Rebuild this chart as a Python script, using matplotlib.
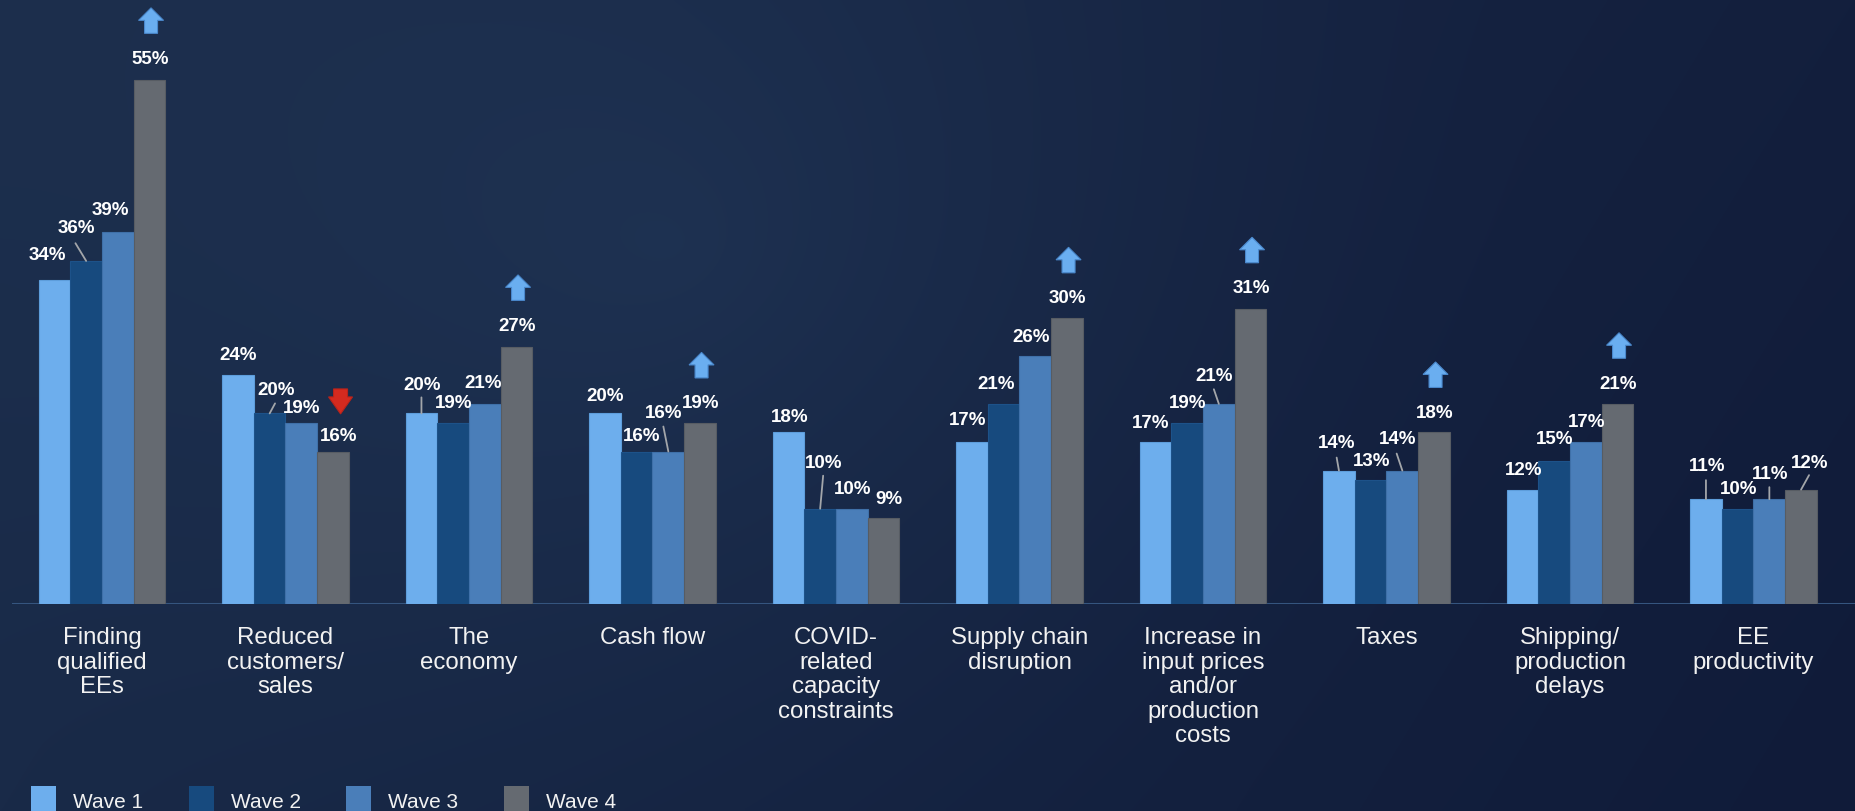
import numpy as np
import matplotlib
matplotlib.use("Agg")
import matplotlib.pyplot as plt
from matplotlib import transforms
from matplotlib.patches import Polygon, Rectangle

plt.rcParams['font.family'] = ['Liberation Sans', 'DejaVu Sans']

# ---- data -------------------------------------------------------------
categories = [
    "Finding\nqualified\nEEs", "Reduced\ncustomers/\nsales", "The\neconomy",
    "Cash flow", "COVID-\nrelated\ncapacity\nconstraints", "Supply chain\ndisruption",
    "Increase in\ninput prices\nand/or\nproduction\ncosts", "Taxes",
    "Shipping/\nproduction\ndelays", "EE\nproductivity",
]
series_names = ["Wave 1", "Wave 2", "Wave 3", "Wave 4"]
wave1 = [34, 24, 20, 20, 18, 17, 17, 14, 12, 11]
wave2 = [36, 20, 19, 16, 10, 21, 19, 13, 15, 10]
wave3 = [39, 19, 21, 16, 10, 26, 21, 14, 17, 11]
wave4 = [55, 16, 27, 19, 9, 30, 31, 18, 21, 12]
# change from previous wave flagged on the Wave 4 bar
trend = ["up", "down", "up", "up", None, "up", "up", "up", "up", None]

# ---- styling ----------------------------------------------------------
colors = ["#6daeed", "#174a7e", "#4a7eb9", "#656a71"]
edge_colors = ["#5d9ddb", "#1d5289", "#3f70a8", "#575c63"]
W, H, DPI = 1856, 812, 100
PX = 72.0 / DPI  # points per pixel

# label offsets (px, y up) from each bar top, per category, per wave
label_off = [
    [(-7.5, 25.5), (-10, 33), (-7.5, 22.5), (0.5, 21.5)],
    [(0.5, 21), (6, 24), (0.5, 15.6), (6, 15.6)],
    [(0.5, 29), (0.5, 20), (-1.9, 21), (0.5, 21.3)],
    [(0.5, 18), (5.4, 16), (-4.4, 39), (0.5, 20)],
    [(1, 16), (3.1, 46), (0.4, 20), (5.5, 19.5)],
    [(-4.5, 22.7), (-8, 20.6), (-4.7, 20), (0.5, 20.3)],
    [(-4.7, 19.4), (0.5, 20), (-4.7, 28), (0.5, 20.8)],
    [(-2, 28), (0.5, 19.2), (-4.4, 31.7), (0.5, 20)],
    [(1, 20.5), (0.5, 22.5), (0.5, 20), (0.5, 20.6)],
    [(1, 34), (0.5, 20), (0.5, 26), (9, 27)],
]
# leader lines: (category, wave) -> start offset (px) from bar top
leaders = {
    (0, 1): (-10.7, 17.7), (1, 1): (5.4, 10), (2, 0): (0, 16),
    (3, 2): (-5, 25), (4, 1): (3, 33), (6, 2): (-5, 14.6),
    (7, 0): (-2.3, 13), (7, 2): (-5.7, 17), (9, 0): (0, 19),
    (9, 2): (0, 12), (9, 3): (8, 14.5),
}

fig = plt.figure(figsize=(W / DPI, H / DPI), dpi=DPI)

# ---- background -------------------------------------------------------
bg_ax = fig.add_axes([0, 0, 1, 1], zorder=-10)
gh, gw = 203, 464
yy, xx = np.mgrid[0:gh, 0:gw]
fx, fy = xx / (gw - 1), yy / (gh - 1)
left = np.array([28, 46, 76]) / 255.0
right = np.array([19, 31, 61]) / 255.0
base = left[None, None, :] * (1 - fx[..., None]) + right[None, None, :] * fx[..., None]
d = np.sqrt(((fx - 0.36) * 1.9) ** 2 + ((fy - 0.3) * 1.0) ** 2)
glow = np.clip(1 - d / 0.9, 0, 1) ** 1.5
base = base + glow[..., None] * (np.array([6, 10, 12]) / 255.0)
base = base - (fy[..., None] * np.array([3, 4, 4]) / 255.0)
bg_ax.imshow(np.clip(base, 0, 1), aspect="auto", interpolation="bilinear",
             extent=[0, 1, 0, 1])
bg_ax.axis("off")

# ---- main axes --------------------------------------------------------
base_px = 605
px_per_pct = 9.53
ax = fig.add_axes([0, (H - base_px) / H, 1, base_px / H])
ax.patch.set_alpha(0)
group_px, first_px = 183.5, 102
ax.set_xlim(-first_px / group_px, (W - first_px) / group_px)
ax.set_ylim(0, base_px / px_per_pct)
ax.axis("off")

bar_w = 31.7 / group_px
x = np.arange(len(categories))
series = [wave1, wave2, wave3, wave4]

ax.axhline(0, xmin=13 / W, xmax=1, color="#35557f", lw=2.2, zorder=1)

for w, vals in enumerate(series):
    xs = x + (w - 1.5) * bar_w
    ax.bar(xs, vals, width=bar_w, color=colors[w], edgecolor=edge_colors[w],
           linewidth=0.8, zorder=2)
    for i, (xi, v) in enumerate(zip(xs, vals)):
        dx, dy = label_off[i][w]
        ax.annotate(f"{v}%", xy=(xi, v), xytext=(dx * PX, dy * PX),
                    textcoords="offset points", ha="center", va="center",
                    fontsize=13.5, fontweight="bold", color="white", zorder=4)
        if (i, w) in leaders:
            sx, sy = leaders[(i, w)]
            ax.annotate("", xy=(xi, v), xytext=(sx * PX, sy * PX),
                        textcoords="offset points",
                        arrowprops=dict(arrowstyle="-", color="#a3a6aa", lw=1.3,
                                        shrinkA=0, shrinkB=0), zorder=3)

# trend arrows above the Wave 4 labels
up_shape = np.array([(-6.5, 0), (6.5, 0), (6.5, 13), (12.5, 13), (0, 25.5),
                     (-12.5, 13), (-6.5, 13)])
down_shape = np.array([(0, 0), (12, 17), (7, 17), (7, 25), (-7, 25), (-7, 17),
                       (-12, 17)])
for i, t in enumerate(trend):
    if t is None:
        continue
    xi = x[i] + 1.5 * bar_w
    v = wave4[i]
    dx, dy = label_off[i][3]
    if t == "up":
        verts = up_shape + np.array([dx + 1, dy + 25])
        fc, ec = "#6aaef0", "#4a88cc"
    else:
        verts = down_shape + np.array([dx + 1.5, dy + 22])
        fc, ec = "#d42a1f", "#b8231a"
    trans = fig.dpi_scale_trans + transforms.ScaledTranslation(xi, v, ax.transData)
    ax.add_patch(Polygon(verts / DPI, closed=True, facecolor=fc, edgecolor=ec,
                         linewidth=0.8, transform=trans, clip_on=False, zorder=5))

# category labels
for i, cat in enumerate(categories):
    ax.annotate(cat, xy=(x[i], 0), xytext=(0, -22 * PX), textcoords="offset points",
                ha="center", va="top", fontsize=17.3, color="#f2f2f2",
                linespacing=1.15, annotation_clip=False)

# legend along the bottom edge
for k, name in enumerate(series_names):
    x0 = 31 + 157.7 * k
    fig.patches.append(Rectangle((x0 / W, -2 / H), 25 / W, 27 / H,
                                 transform=fig.transFigure, facecolor=colors[k],
                                 edgecolor="none"))
    fig.text((x0 + 42) / W, 4 / H, name, fontsize=15, color="#f2f2f2",
             ha="left", va="baseline")

fig.savefig("out.png", dpi=DPI)
